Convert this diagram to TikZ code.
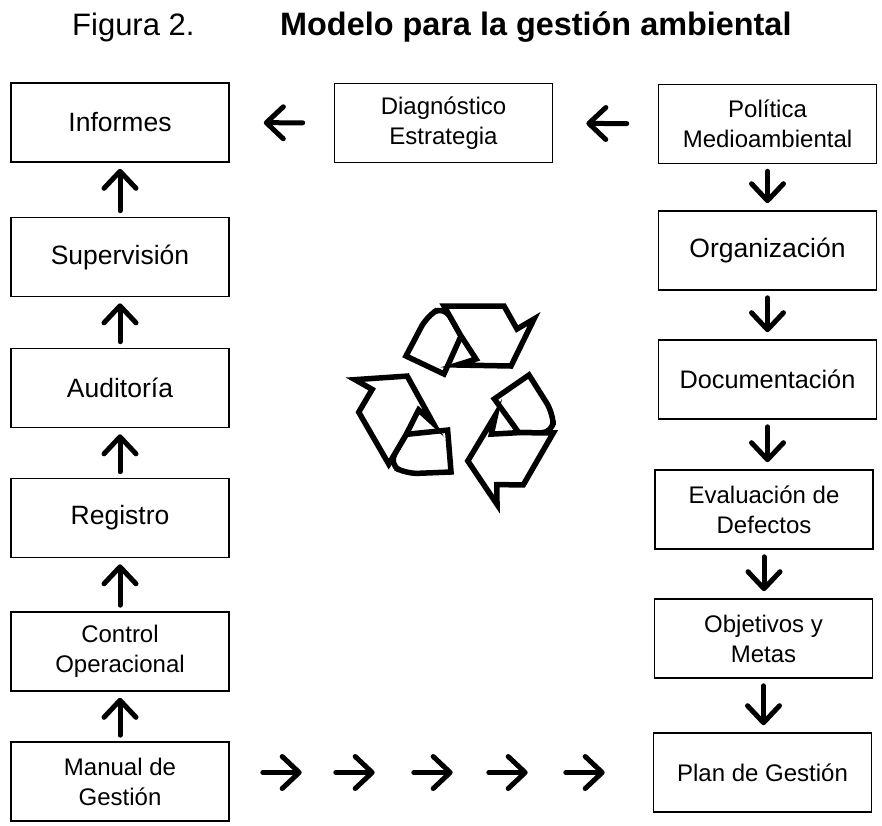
\documentclass[tikz,border=0pt]{standalone}
\usepackage{fontspec}
\setmainfont{Liberation Sans}
\usetikzlibrary{arrows.meta}

\begin{document}
\begin{tikzpicture}[x=1pt,y=-1pt]

\tikzset{box/.style = {draw, line width=1.6pt, minimum width=218pt, minimum height=79pt, inner sep=0pt, align=center, font=\fontsize{24}{30}\selectfont}}
\tikzset{big/.style = {font=\fontsize{26.5}{31}\selectfont}}
\tikzset{flow/.style = {-{Straight Barb[round,length=17pt,width=32pt]}, line width=5pt, line cap=round}}
\tikzset{band/.style = {draw, fill=white, line width=5.5pt, line join=miter}}

\useasboundingbox (0,0) rectangle (882,825);

% title
\node[anchor=base west, inner sep=0pt, font=\fontsize{31}{36}\selectfont] (fig) at (72,35) {Figura 2.};
\node[anchor=base west, inner sep=0pt, font=\fontsize{32.4}{36}\selectfont\bfseries] (tit) at (280,35) {Modelo para la gestión ambiental};

% vertices
\node[box, big] (inf) at (120,122.5) {Informes};
\node[box, big] (sup) at (120,257) {Supervisión};
\node[box, big] (aud) at (120,388) {Auditoría};
\node[box, big] (reg) at (120,518) {Registro};
\node[box] (ctl) at (120,651.5) {Control\\Operacional};
\node[box] (man) at (120,781.5) {Manual de\\Gestión};

\node[box] (diag) at (443.5,123) {Diagnóstico\\Estrategia};

\node[box] (pol) at (767.5,124) {Política\\Medioambiental};
\node[box, big] (org) at (767.5,250.5) {Organización};
\node[box, font=\fontsize{25.3}{31}\selectfont] (doc) at (767.5,379.5) {Documentación};
\node[box] (eva) at (764,509.5) {Evaluación de\\Defectos};
\node[box] (obj) at (763.5,638.5) {Objetivos y\\Metas};
\node[box] (plan) at (762.5,772.5) {Plan de Gestión};

%edges
\foreach \a/\b in {sup/inf, aud/sup, reg/aud, ctl/reg, man/ctl}
  \draw[flow, shorten <=6pt, shorten >=6pt] (\a) -- (\a |- \b.south);
\foreach \a/\b in {pol/org, org/doc, doc/eva, eva/obj, obj/plan}
  \draw[flow, shorten <=7pt, shorten >=7pt] (\a) -- (\a |- \b.north);

\draw[flow, shorten <=31pt, shorten >=34pt] (diag) -- (inf);
\draw[flow, shorten <=31pt, shorten >=33pt] (pol) -- (diag);

\foreach \s/\e in {33pt/351pt, 106pt/278pt, 184pt/200pt, 259pt/125pt, 336pt/48pt}
  \draw[flow, shorten <=\s, shorten >=\e] (man.east |- plan) -- (plan);

% recycling sign
\begin{scope}[shift={(462,401)}, yscale=-1]
\foreach \r in {0,-120,-240}{
  \begin{scope}[rotate=\r]
  \draw[band] (-56,45) [rounded corners=12pt] -- (-35,85) -- (-18,95) [sharp corners] -- (-1,65) -- (-18,27) -- cycle;
  \draw[band] (-18,95) -- (42,95) -- (55,72) -- (72,82) -- (49,35) -- (-5,36) -- (14,42) -- (-1,65) -- cycle;
  \end{scope}
}
\end{scope}

\end{tikzpicture}
\end{document}
